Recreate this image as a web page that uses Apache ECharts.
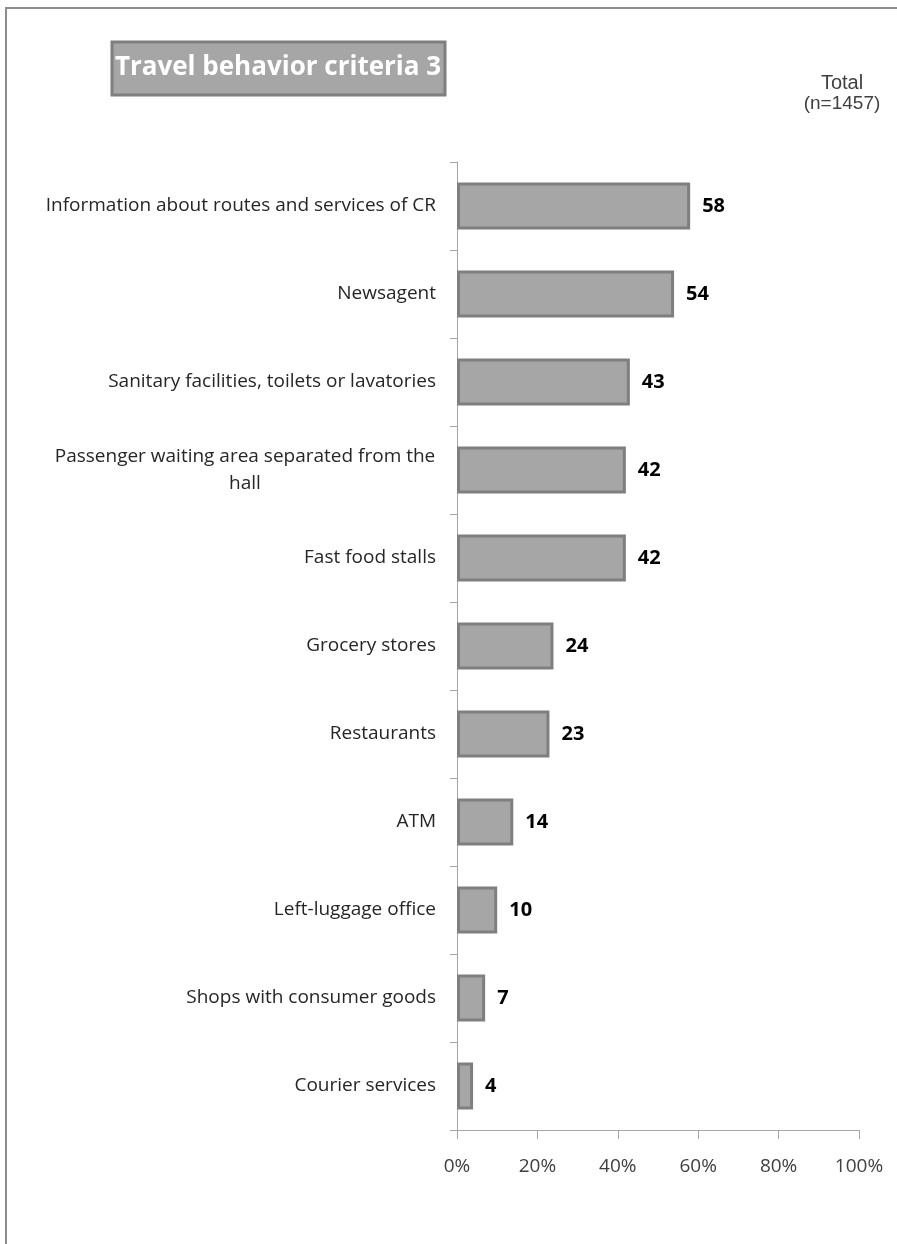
<!DOCTYPE html>
<html>
<head>
<meta charset="utf-8">
<script src="https://cdn.jsdelivr.net/npm/echarts@6/dist/echarts.min.js"></script>
<style>
  html, body { margin: 0; padding: 0; background: #fff; }
  #chart { width: 897px; height: 1244px; }
</style>
</head>
<body>
<div id="chart"></div>
<script>
const categories = [
  'Information about routes and services of CR',
  'Newsagent',
  'Sanitary facilities, toilets or lavatories',
  'Passenger waiting area separated from the\nhall',
  'Fast food stalls',
  'Grocery stores',
  'Restaurants',
  'ATM',
  'Left-luggage office',
  'Shops with consumer goods',
  'Courier services',
];
const totalValues = [58, 54, 43, 42, 42, 24, 23, 14, 10, 7, 4];
const xTickLabels = ['0%', '20%', '40%', '60%', '80%', '100%'];

const chart = echarts.init(document.getElementById('chart'));
const labelFont = '"Open Sans", sans-serif';

const option = {
  animation: false,
  backgroundColor: '#fff',
  grid: { left: 457, right: 38, top: 162, bottom: 114 },
  xAxis: {
    type: 'value',
    min: 0,
    max: 100,
    interval: 20,
    splitLine: { show: false },
    axisLine: { show: true, lineStyle: { color: '#a6a6a6', width: 1 } },
    axisTick: { show: true, length: 9, lineStyle: { color: '#a6a6a6' } },
    axisLabel: {
      margin: 27,
      fontSize: 19,
      fontFamily: labelFont,
      color: '#404040',
      formatter: (v) => xTickLabels[v / 20],
    },
  },
  yAxis: {
    type: 'category',
    inverse: true,
    data: categories,
    axisLine: { show: true, lineStyle: { color: '#a6a6a6', width: 1 } },
    axisTick: { show: true, length: 7, lineStyle: { color: '#a6a6a6' } },
    axisLabel: {
      margin: 21,
      fontSize: 19,
      fontFamily: labelFont,
      color: '#262626',
      formatter: (v) => {
        // the wrapped label is centred on its own block in the original
        if (v.indexOf('\n') >= 0) {
          const parts = v.split('\n');
          return '{c|' + parts[0] + '}\n{c|' + parts[1] + '}';
        }
        return v;
      },
      rich: {
        c: {
          width: 382,
          align: 'center',
          fontSize: 19,
          fontFamily: labelFont,
          color: '#262626',
          lineHeight: 27,
        },
      },
    },
  },
  series: [
    {
      name: 'Total',
      type: 'bar',
      data: totalValues,
      barWidth: 47,
      itemStyle: {
        color: '#a6a6a6',
        borderColor: '#7f7f7f',
        borderWidth: 3,
      },
      label: {
        show: true,
        position: 'right',
        distance: 12,
        fontSize: 20,
        fontWeight: 'bold',
        fontFamily: labelFont,
        color: '#000',
      },
    },
  ],
  graphic: [
    // outer frame, only top and left edges are visible
    {
      type: 'rect',
      shape: { x: 6, y: 8, width: 1000, height: 1400 },
      style: { fill: 'none', stroke: '#8c8c8c', lineWidth: 2 },
    },
    // title box
    {
      type: 'rect',
      shape: { x: 112, y: 42, width: 333, height: 53 },
      style: { fill: '#a6a6a6', stroke: '#7f7f7f', lineWidth: 3 },
    },
    {
      type: 'text',
      x: 278,
      y: 68,
      style: {
        text: 'Travel behavior criteria 3',
        fill: '#fff',
        fontSize: 26,
        fontWeight: 'bold',
        fontFamily: labelFont,
        align: 'center',
        verticalAlign: 'middle',
      },
    },
    {
      type: 'text',
      x: 842,
      y: 83,
      style: {
        text: 'Total',
        fill: '#404040',
        fontSize: 20,
        fontFamily: '"Liberation Sans", Arial, sans-serif',
        align: 'center',
        verticalAlign: 'middle',
      },
    },
    {
      type: 'text',
      x: 842,
      y: 104,
      style: {
        text: '(n=1457)',
        fill: '#404040',
        fontSize: 19,
        fontFamily: '"Liberation Sans", Arial, sans-serif',
        align: 'center',
        verticalAlign: 'middle',
      },
    },
  ],
};

chart.setOption(option);
</script>
</body>
</html>
